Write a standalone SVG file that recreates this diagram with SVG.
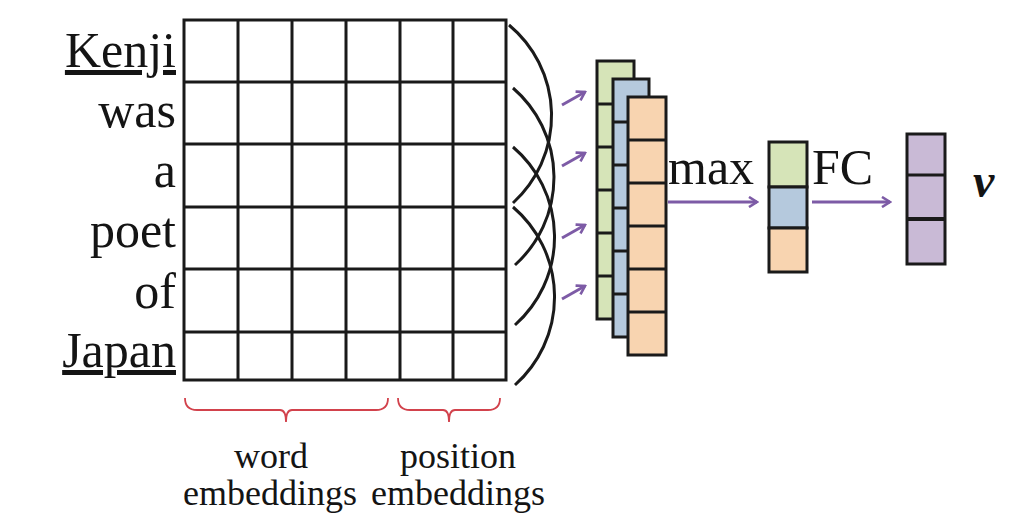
<svg xmlns="http://www.w3.org/2000/svg" width="1025" height="522" viewBox="0 0 1025 522">
  <style>
    .word { font-family: "Liberation Serif", "Times New Roman", serif; font-size: 50px; fill: #141414; }
    .cap { font-family: "Liberation Serif", "Times New Roman", serif; font-size: 36px; fill: #141414; text-anchor: middle; }
    .grid { fill: #ffffff; stroke: #1a1a1a; stroke-width: 3; }
    .gline { stroke: #1a1a1a; stroke-width: 3; }
    .arc { fill: none; stroke: #1a1a1a; stroke-width: 3; }
    .flow { stroke: #7d5ba6; stroke-width: 3; fill: none; marker-end: url(#head); }
    .brace { fill: none; stroke: #d2424c; stroke-width: 1.8; }
    .green { fill: #d6e4b8; }
    .blue { fill: #b5c9dd; }
    .orange { fill: #f8d4b0; }
    .violet { fill: #c9bad6; }
    .box { stroke: #1a1a1a; stroke-width: 3; }
  </style>
  <defs>
    <marker id="head" viewBox="0 0 12 12" refX="10" refY="6" markerWidth="12" markerHeight="12" markerUnits="userSpaceOnUse" orient="auto">
      <path d="M2,1 L10,6 L2,11" fill="none" stroke="#7d5ba6" stroke-width="2.6" stroke-linejoin="miter"/>
    </marker>
  </defs>
  <rect width="1025" height="522" fill="#ffffff"/>

  <!-- sentence tokens -->
  <g id="tokens">
    <text class="word" x="176" y="67" text-anchor="end" text-decoration="underline">Kenji</text>
    <text class="word" x="176" y="127" text-anchor="end">was</text>
    <text class="word" x="176" y="187" text-anchor="end">a</text>
    <text class="word" x="176" y="247" text-anchor="end">poet</text>
    <text class="word" x="176" y="308" text-anchor="end">of</text>
    <text class="word" x="176" y="367" text-anchor="end" text-decoration="underline">Japan</text>
  </g>

  <!-- input matrix: word + position embeddings -->
  <g id="input-matrix">
    <rect class="grid" x="184" y="20" width="322" height="360"/>
    <line class="gline" x1="238" y1="20" x2="238" y2="380"/>
    <line class="gline" x1="292" y1="20" x2="292" y2="380"/>
    <line class="gline" x1="346" y1="20" x2="346" y2="380"/>
    <line class="gline" x1="400" y1="20" x2="400" y2="380"/>
    <line class="gline" x1="453" y1="20" x2="453" y2="380"/>
    <line class="gline" x1="184" y1="82" x2="506" y2="82"/>
    <line class="gline" x1="184" y1="144" x2="506" y2="144"/>
    <line class="gline" x1="184" y1="207" x2="506" y2="207"/>
    <line class="gline" x1="184" y1="269" x2="506" y2="269"/>
    <line class="gline" x1="184" y1="332" x2="506" y2="332"/>
  </g>

  <!-- braces under the matrix -->
  <g id="word-embeddings">
    <path class="brace" d="M185,398 Q185,410 197,410 L280,410 Q286,410 286,422 Q286,410 292,410 L376,410 Q388,410 388,398"/>
    <text class="cap" x="271" y="468">word</text>
    <text class="cap" x="270" y="505">embeddings</text>
  </g>
  <g id="position-embeddings">
    <path class="brace" d="M398,398 Q398,410 410,410 L443,410 Q449,410 449,422 Q449,410 455,410 L488,410 Q500,410 500,398"/>
    <text class="cap" x="458" y="468">position</text>
    <text class="cap" x="458" y="505">embeddings</text>
  </g>

  <!-- convolution feature maps -->
  <g id="feature-maps">
    <rect class="green box" x="597" y="61" width="37" height="258"/>
    <line class="box" x1="597" y1="104" x2="634" y2="104"/>
    <line class="box" x1="597" y1="147" x2="634" y2="147"/>
    <line class="box" x1="597" y1="190" x2="634" y2="190"/>
    <line class="box" x1="597" y1="233" x2="634" y2="233"/>
    <line class="box" x1="597" y1="276" x2="634" y2="276"/>

    <rect class="blue box" x="613" y="79" width="36" height="258"/>
    <line class="box" x1="613" y1="122" x2="649" y2="122"/>
    <line class="box" x1="613" y1="165" x2="649" y2="165"/>
    <line class="box" x1="613" y1="208" x2="649" y2="208"/>
    <line class="box" x1="613" y1="251" x2="649" y2="251"/>
    <line class="box" x1="613" y1="294" x2="649" y2="294"/>

    <rect class="orange box" x="628" y="97" width="38" height="258"/>
    <line class="box" x1="628" y1="140" x2="666" y2="140"/>
    <line class="box" x1="628" y1="183" x2="666" y2="183"/>
    <line class="box" x1="628" y1="226" x2="666" y2="226"/>
    <line class="box" x1="628" y1="269" x2="666" y2="269"/>
    <line class="box" x1="628" y1="312" x2="666" y2="312"/>
  </g>

  <!-- pooled vector -->
  <g id="pooled">
    <rect class="green box" x="769" y="142" width="38" height="45"/>
    <rect class="blue box" x="769" y="187" width="38" height="41"/>
    <rect class="orange box" x="769" y="228" width="38" height="44"/>
  </g>

  <!-- output vector v -->
  <g id="output">
    <rect class="violet box" x="907" y="134" width="38" height="130"/>
    <line class="box" x1="907" y1="175" x2="945" y2="175"/>
    <line x1="907" y1="219" x2="945" y2="219" stroke="#1a1a1a" stroke-width="4"/>
    <text x="973" y="197" font-family="Liberation Serif, 'Times New Roman', serif" font-size="48" font-weight="bold" font-style="italic" fill="#141414">v</text>
  </g>

  <!-- connectors -->
  <g id="connectors">
    <path class="arc" d="M509,25 A118,118 0 0 1 513,203"/>
    <path class="arc" d="M513,88 A118,118 0 0 1 515,265"/>
    <path class="arc" d="M513,147 A118,118 0 0 1 515,325"/>
    <path class="arc" d="M513,207 A118,118 0 0 1 515,385"/>

    <line class="flow" x1="562" y1="105" x2="585" y2="92"/>
    <line class="flow" x1="562" y1="166" x2="585" y2="153"/>
    <line class="flow" x1="562" y1="238" x2="585" y2="225"/>
    <line class="flow" x1="562" y1="299" x2="585" y2="286"/>

    <line class="flow" x1="668" y1="202" x2="757" y2="202"/>
    <text class="word" x="668" y="184">max</text>
    <line class="flow" x1="812" y1="202" x2="890" y2="202"/>
    <text class="word" x="812" y="184">FC</text>
  </g>
</svg>
